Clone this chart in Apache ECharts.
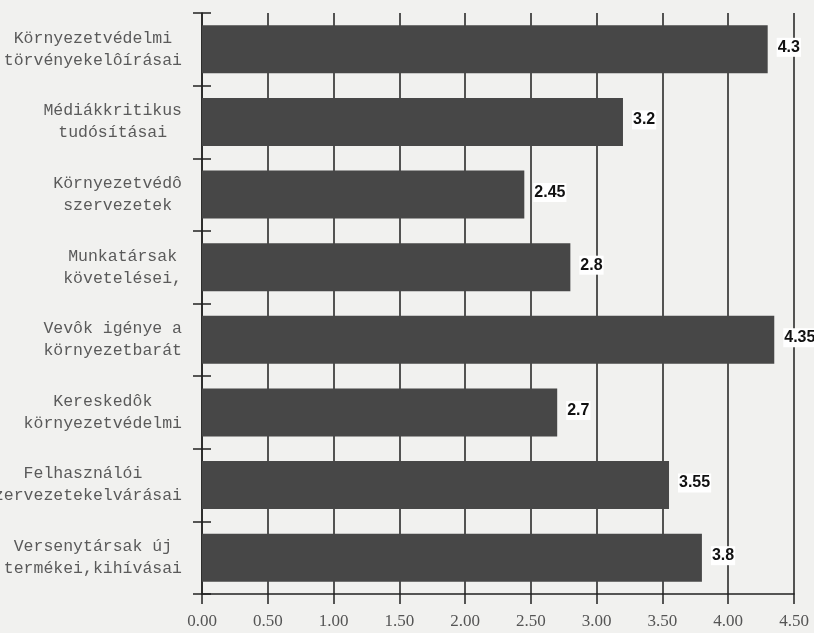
<!DOCTYPE html>
<html>
<head>
<meta charset="utf-8">
<script src="https://cdn.jsdelivr.net/npm/echarts@6/dist/echarts.min.js"></script>
<style>
  html, body { margin: 0; padding: 0; background: #f1f1ef; }
  #chart { width: 814px; height: 633px; }
</style>
</head>
<body>
<div id="chart"></div>
<script>
// Category labels, each split over two lines (top to bottom)
const categories = [
  'Környezetvédelmi\ntörvényekelôírásai',
  'Médiákkritikus\ntudósításai',
  'Környezetvédô\nszervezetek',
  'Munkatársak\nkövetelései,',
  'Vevôk igénye a\nkörnyezetbarát',
  'Kereskedôk\nkörnyezetvédelmi',
  'Felhasználói\nszervezetekelvárásai',
  'Versenytársak új\ntermékei,kihívásai'
];
const values = [4.3, 3.2, 2.45, 2.8, 4.35, 2.7, 3.55, 3.8];
const axisMin = 0;
const axisMax = 4.5;
const axisStep = 0.5;

const chart = echarts.init(document.getElementById('chart'), null, { renderer: 'canvas' });

// Each line is centred inside the right-aligned label block
function centredLines(text) {
  return text.split('\n').map(l => '{c|' + l + '}').join('\n');
}

chart.setOption({
  backgroundColor: '#f1f1ef',
  animation: false,
  grid: { left: 202, right: 20, top: 13, bottom: 39, containLabel: false, outerBoundsMode: 'none' },
  xAxis: {
    type: 'value',
    min: axisMin,
    max: axisMax,
    interval: axisStep,
    axisLine: { show: true, lineStyle: { color: '#222', width: 1.5 } },
    axisTick: { show: true, length: 10, lineStyle: { color: '#222', width: 1.5 } },
    splitLine: { show: true, lineStyle: { color: '#1e1e1e', width: 1.5 } },
    axisLabel: {
      margin: 19,
      color: '#555',
      fontFamily: 'Liberation Serif',
      fontSize: 17,
      formatter: v => v.toFixed(2)
    }
  },
  yAxis: [
    {
      type: 'category',
      data: categories,
      inverse: true,
      axisLine: { show: true, lineStyle: { color: '#222', width: 1.5 } },
      axisTick: { show: true, length: 9, lineStyle: { color: '#222', width: 1.5 } },
      axisLabel: {
        margin: 20,
        align: 'right',
        color: '#5a5a5a',
        fontFamily: 'Liberation Mono',
        fontSize: 16.5,
        lineHeight: 22,
        formatter: centredLines,
        rich: {
          c: { align: 'center', color: '#5a5a5a', fontFamily: 'Liberation Mono', fontSize: 16.5, lineHeight: 22 }
        }
      }
    },
    {
      // inner half of the category ticks
      type: 'category',
      data: categories,
      inverse: true,
      position: 'left',
      axisLine: { show: false },
      axisTick: { show: true, inside: true, length: 9, lineStyle: { color: '#222', width: 1.5 } },
      axisLabel: { show: false },
      splitLine: { show: false }
    }
  ],
  series: [{
    type: 'bar',
    data: values,
    barWidth: 48,
    itemStyle: { color: '#474747' },
    label: {
      show: true,
      position: 'right',
      distance: 9,
      color: '#111',
      fontFamily: 'Liberation Sans',
      fontWeight: 'bold',
      fontSize: 16,
      backgroundColor: '#ffffff',
      padding: [2, 1, 1, 1],
      offset: [0, -2],
      formatter: p => String(p.value)
    }
  }]
});
</script>
</body>
</html>
